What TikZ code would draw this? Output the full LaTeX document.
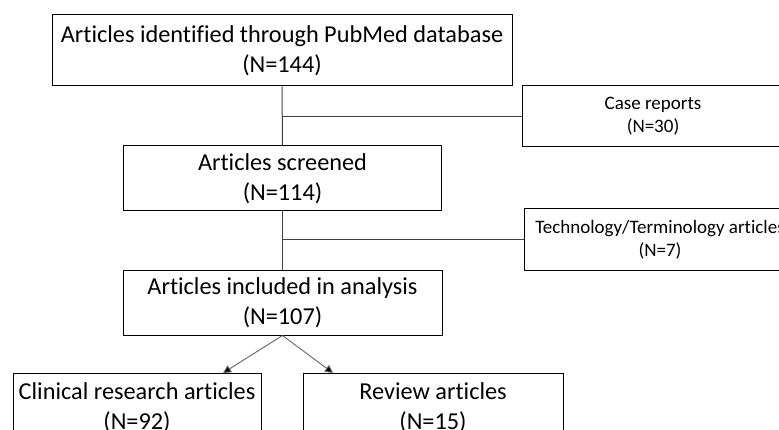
\documentclass[tikz,border=0pt]{standalone}
\usepackage{fontspec}
\setmainfont{Carlito}[Ligatures={NoCommon,NoContextual}]
\usetikzlibrary{arrows.meta}
\tikzset{
  bigbox/.style={draw=black, line width=1pt, align=center, inner sep=0pt,
    font=\fontsize{24.3}{30}\selectfont},
  smallbox/.style={draw=black, line width=1pt, align=center, inner sep=0pt,
    font=\fontsize{19}{23}\selectfont},
  conn/.style={draw=black!75, line width=1pt},
  arr/.style={draw=black!60, line width=0.9pt, -{Triangle[length=8pt,width=8pt,fill=black]}}
}
\begin{document}
\begin{tikzpicture}[x=1pt,y=-1pt]
\useasboundingbox (0,0) rectangle (779,430);
\clip (0,0) rectangle (779,430);
\node[bigbox, minimum width=460pt, minimum height=71pt] (b1) at (282,50.5)
  {Articles identified through PubMed database\\(N=144)};
\node[bigbox, minimum width=318pt, minimum height=65pt] (b2) at (282.5,178.5)
  {Articles screened\\(N=114)};
\node[bigbox, minimum width=319pt, minimum height=64pt] (b3) at (282.5,303)
  {Articles included in analysis\\(N=107)};
\node[bigbox, minimum width=248pt, minimum height=70pt] (b4) at (137,408)
  {Clinical research articles\\(N=92)};
\node[bigbox, minimum width=260pt, minimum height=70pt] (b5) at (433,408)
  {Review articles\\(N=15)};
\node[smallbox, minimum width=262pt, minimum height=61pt] (case) at (653,116.5)
  {Case reports\\(N=30)};
\node[smallbox, minimum width=272pt, minimum height=62pt] (tech) at (660,240)
  {Technology/Terminology articles\\(N=7)};
\coordinate (t4) at (223,373);
\coordinate (t5) at (333,373);
\draw[conn] (b1.south) -- (b2.north);
\draw[conn] (b1.south |- case.west) -- (case.west);
\draw[conn] (b2.south) -- (b3.north);
\draw[conn] (b2.south |- tech.west) -- (tech.west);
\draw[arr] (b3.south) -- (t4);
\draw[arr] (b3.south) -- (t5);
\end{tikzpicture}
\end{document}
